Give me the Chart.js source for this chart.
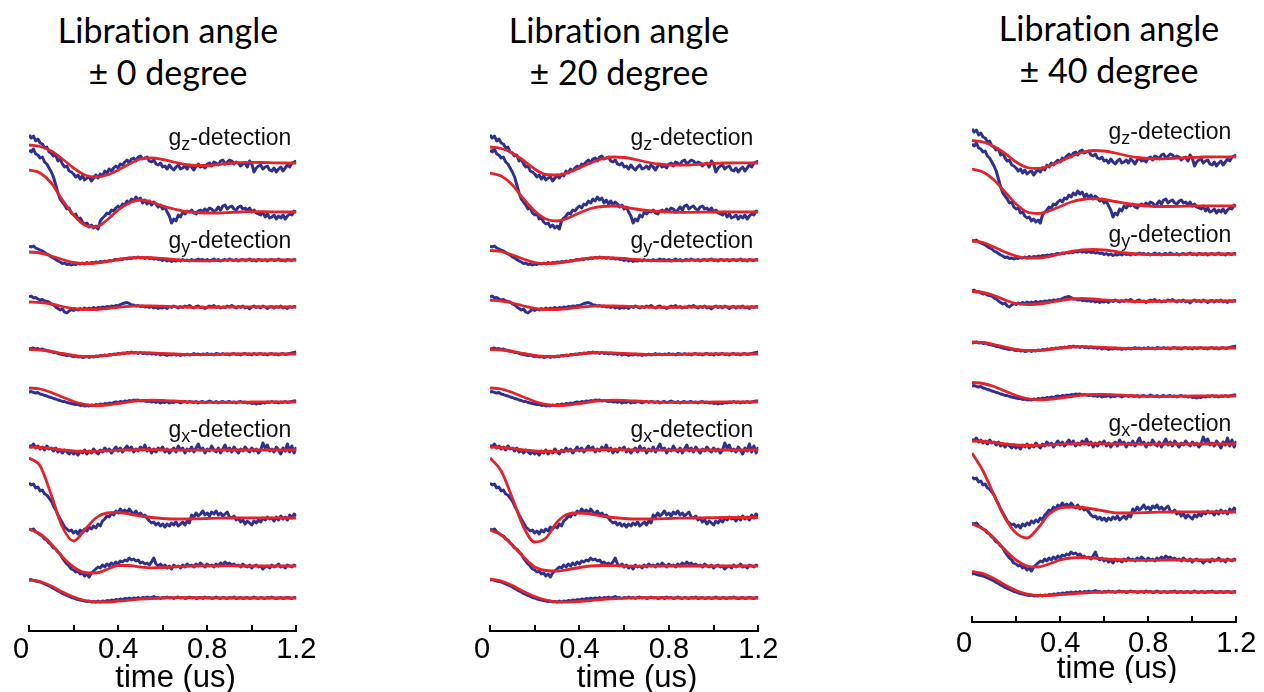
<!DOCTYPE html>
<html>
<head>
<meta charset="utf-8">
<title>Libration angle</title>
<script src="https://cdn.jsdelivr.net/npm/chart.js@4"></script>
<style>
  html, body { margin: 0; padding: 0; background: #fff; overflow: hidden; }
  body { width: 1264px; height: 692px; position: relative; }
  .titulo { position: absolute; width: 300px; text-align: center; font-family: Lato, "Open Sans", sans-serif; font-size: 34px; line-height: 42px; color: #000; font-variant-ligatures: none; }
  canvas { position: absolute; }
</style>
</head>
<body>
<div class="titulo" id="t0" style="left:18px; top:9px"></div>
<div class="titulo" id="t1" style="left:469px; top:9px"></div>
<div class="titulo" id="t2" style="left:959px; top:7px"></div>
<canvas id="c0" width="320" height="592" style="left:1px; top:100px"></canvas>
<canvas id="c1" width="321" height="592" style="left:462px; top:100px"></canvas>
<canvas id="c2" width="320" height="592" style="left:944px; top:91px"></canvas>
<script>
// Titulos de cada panel
var tituloLinea1 = 'Libration angle';
var angulos = ['± 0 degree', '± 20 degree', '± 40 degree'];
var tituloEje = 'time (us)';
var etiquetasTiempo = ['0', '', '0.4', '', '0.8', '', '1.2'];

// Etiquetas de deteccion: [g, subindice, resto] y nivel (en unidades del eje y)
var etiquetasDeteccion = [['g', 'z', '-detection'], ['g', 'y', '-detection'], ['g', 'x', '-detection']];
var nivelesEtiqueta = [486, 383, 194];

// Tiempos de las senales medidas (us)
var tiempos = [
  0, 0.01, 0.02, 0.03, 0.04, 0.05, 0.06, 0.07, 0.08, 0.09,
  0.1, 0.11, 0.12, 0.13, 0.14, 0.15, 0.16, 0.17, 0.18, 0.19,
  0.2, 0.21, 0.22, 0.23, 0.24, 0.25, 0.26, 0.27, 0.28, 0.29,
  0.3, 0.31, 0.32, 0.33, 0.34, 0.35, 0.36, 0.37, 0.38, 0.39,
  0.4, 0.41, 0.42, 0.43, 0.44, 0.45, 0.46, 0.47, 0.48, 0.49,
  0.5, 0.51, 0.52, 0.53, 0.54, 0.55, 0.56, 0.57, 0.58, 0.59,
  0.6, 0.61, 0.62, 0.63, 0.64, 0.65, 0.66, 0.67, 0.68, 0.69,
  0.7, 0.71, 0.72, 0.73, 0.74, 0.75, 0.76, 0.77, 0.78, 0.79,
  0.8, 0.81, 0.82, 0.83, 0.84, 0.85, 0.86, 0.87, 0.88, 0.89,
  0.9, 0.91, 0.92, 0.93, 0.94, 0.95, 0.96, 0.97, 0.98, 0.99,
  1, 1.01, 1.02, 1.03, 1.04, 1.05, 1.06, 1.07, 1.08, 1.09,
  1.1, 1.11, 1.12, 1.13, 1.14, 1.15, 1.16, 1.17, 1.18, 1.19,
  1.2
];
// Tiempos de las curvas de ajuste
var tiemposAjuste = [0, 0.05, 0.1, 0.15, 0.2, 0.25, 0.3, 0.35, 0.4, 0.45, 0.5, 0.55, 0.6,
  0.65, 0.7, 0.75, 0.8, 0.85, 0.9, 0.95, 1, 1.05, 1.1, 1.15, 1.2];

// Separacion vertical de cada traza
var desplazamientos = [468, 419, 371, 324, 277, 229, 181, 113, 65, 33];

// Senales medidas (azul), iguales en los tres paneles
var senal1 = [28, 25, 27, 22, 24, 20, 19, 15, 16, 11, 10, 7, 8, 2, 4, -1, -4, -3, -8, -9,
  -11, -14, -12, -16, -13, -17, -15, -14, -18, -15, -12, -15, -11, -13, -8, -10, -6, -8, -5, -3,
  -5, -1, -2, 1, 3, 0, 4, 5, 2, 6, 7, 4, 5, 6, 2, 1, 3, -1, -2, 0,
  -4, -3, -6, -2, -5, -7, -4, -2, -6, -5, -3, -6, -2, -4, -7, -3, -1, -4, -3, -5,
  -1, 0, -3, 1, 0, -2, 2, 3, -1, 1, 3, 2, -1, 1, 0, -3, -1, 0, -4, 2,
  -1, -9, -5, -3, -2, -6, -4, -3, -7, -8, -5, -9, -6, -4, -8, -5, -2, -4, 0, 1, 2];
var senal2 = [62, 60, 63, 58, 57, 54, 55, 50, 48, 44, 40, 35, 27, 19, 13, 10, 7, 3, 4, -1,
  -3, -2, -7, -6, -10, -12, -11, -15, -13, -16, -14, -17, -9, -6, -4, -1, -2, 2, 1, 4,
  6, 4, 8, 7, 11, 9, 13, 11, 15, 12, 14, 9, 12, 8, 11, 7, 10, 8, 5, 7,
  3, 5, 0, -4, -11, -7, -9, -3, -5, 0, -2, 1, 0, 2, -1, -2, 1, 2, 0, 3,
  1, 4, 3, 0, 2, 5, 2, 6, 7, 3, 5, 6, 3, 2, 5, 6, 3, 4, 1, 4,
  0, 2, -1, -2, -3, 0, -5, -2, -6, -5, -3, -7, -4, -6, -3, -7, -4, -2, -3, 1, 0];
var senal3 = [14, 13, 14, 12, 11, 10, 9, 7.5, 6, 5, 3, 2, 0.5, -1, -2, -3.5, -3, -4.5, -4, -5,
  -4, -4.5, -3.5, -4, -3, -4, -2.5, -3.5, -2.5, -3, -2, -2.5, -1.5, -2, -1, -1.5, -0.5, -1, 0, 0.5,
  0, 1, 0.5, 1.5, 1, 2, 1.5, 2.5, 2, 3, 2, 2.5, 1.5, 2.5, 1.5, 2, 1, 1.5, 0.5, 1,
  -0.5, 0.5, -1, 0, -1.5, -0.5, -1, 0, -1, 0.5, -0.5, 0, -1, 0.5, -0.5, 0, 1, 0, 0.5, -0.5,
  0.5, -1, 0, 1, -0.5, 0.5, -1, 0, 0.5, -0.5, 1, 0, -0.5, 0.5, -1, 0, 0.5, -0.5, 0, 1,
  -0.5, 0, -1, 0.5, 0, -0.5, 0.5, -1, 0, 0.5, -0.5, 0, 1, -0.5, 0, -1, 0.5, 0, -0.5, 0.5, 0];
var senal4 = [10, 11, 9, 9.5, 8, 7, 7.5, 6, 5.5, 5, 3, 2, 0, -1.5, -3, -2, -5, -6, -4, -2.5,
  -3.5, -2, -3, -1.5, -2.5, -1, -2, -1, -2, -0.5, -1.5, -0.5, -1, 0, -0.5, 0.5, 0, 1, 0.5, 1.5,
  1, 2.5, 3.5, 4, 4.5, 3.5, 2, 2, 1, 1.5, 0.5, 1, 0, 0.5, -0.5, 0.5, -1, 0, -1.5, -0.5,
  -1, 0, -1.5, 0.5, -0.5, 1, 0, -1, 0.5, -0.5, 1, 0, 1.5, 0, -1, 0.5, 1, -0.5, 0, -1.5,
  0, 1, 0, 1.5, -0.5, 0.5, -1, 0, -0.5, 1, 0, 1.5, 0, -1, 0.5, -0.5, 1, -1, 0, -2,
  0, 1, -0.5, 0.5, -1, 1, 0, -1.5, 0, 0.5, -1, 0.5, -0.5, 1, -1, 0, -1.5, 0.5, -0.5, 0.5, 0];
var senal5 = [5, 5.5, 6, 5, 5.5, 4.5, 5, 4, 3.5, 3, 2.5, 1.5, 1.5, 0.5, 0, -0.5, -1, -1.5, -1, -2,
  -2.5, -2, -3, -2.5, -3.5, -3, -2.5, -3.5, -2.5, -3, -2, -2.5, -1.5, -2, -1, -1.5, -0.5, -1, 0, -0.5,
  0.5, 0, 1, 0.5, 1.5, 1, 2, 1, 1.5, 0.5, 1.5, 0.5, 1, 0, 1, 0, 0.5, -0.5, 0.5, -1,
  0, -0.5, -1.5, -0.5, -1, 0, -1, -0.5, -1.5, -0.5, -1, 0, -1, -0.5, 0.5, -0.5, 0, -1, 0, -0.5,
  0.5, -0.5, 0, -1, 0.5, 0, -0.5, 0.5, -0.5, 0, -1, 0, 0.5, -0.5, 0, -1, 0, 0.5, -0.5, 0,
  -1, 0.5, -0.5, 0, 0.5, -0.5, 0, -1, 0, 0.5, -0.5, 0, -1, 0, 0.5, -0.5, 0, 0.5, 1, 1.5, 2];
var senal6 = [10, 10.5, 9.5, 9, 9.5, 8, 7.5, 6.5, 6, 5, 4.5, 3.5, 3, 2, 1.5, 0.5, 0.5, -0.5, -1, -1.5,
  -2, -2.5, -2.5, -3.5, -3, -4, -3.5, -4, -3, -3.5, -2.5, -3, -2, -2.5, -1.5, -2, -1, -1.5, -0.5, 0,
  -0.5, 0.5, 0, 1, 0.5, 1.5, 1, 2, 1.5, 2, 1, 1.5, 1, 0.5, 1, 0, 0.5, -0.5, 0.5, -1,
  0, -0.5, 0.5, -1, 0, -0.5, 0.5, 0, -1, 0, 0.5, -0.5, 0.5, 0, -0.5, 0.5, -1, 0, 0.5, -0.5,
  0, 1, 0, -0.5, 0.5, -1, 0, 0.5, -0.5, 0, 0.5, -0.5, 0, -1, 0, 0.5, -0.5, 0, -1, -0.5,
  -1.5, -1, -2, -1, -1.5, -0.5, -1, 0, -0.5, 0.5, -0.5, 0, -1, 0, -0.5, 0.5, -0.5, 0, 0.5, 1, 1];
var senal7 = [5, 3, 6, 2, 4, 1, 3, 0, 4, 1, 2, -1, 2, -2, 0, -3, 0, -2, -4, -1,
  -4, -2, -5, -1, -3, 0, -4, -1, -3, 1, -2, -4, 0, -2, 2, -1, 1, -3, 0, 3,
  -1, 2, -2, 1, 4, 0, 3, -2, 1, -1, 3, 0, 5, -1, 2, -3, 1, -2, 2, 0,
  3, -2, 1, -3, 0, 2, -2, 4, 0, 2, -3, 1, -1, 3, -2, 2, 6, 0, 2, -3,
  1, -1, 4, 0, -2, 2, -3, 1, 5, -1, 2, -2, 3, 0, -3, 1, -1, 3, 0, -2,
  2, -1, 1, -3, 0, 7, 2, 5, -1, 1, -2, 3, 0, -4, 2, -1, 6, -2, 4, -3, 3];
var senal8 = [35, 33, 34, 30, 31, 27, 28, 24, 23, 20, 17, 12, 8, 3, -1, -5, -9, -11, -13, -12,
  -15, -13, -16, -12, -14, -11, -13, -9, -11, -8, -10, -6, -8, -3, -1, 2, 1, 5, 3, 7,
  5, 9, 6, 8, 5, 9, 6, 4, 7, 3, 5, 2, 3, 0, -3, -5, -4, -7, -5, -8,
  -6, -9, -6, -8, -5, -7, -4, -8, -6, -4, -7, -3, -5, 3, 1, 5, 2, 4, 7, 3,
  5, 2, 6, 4, 7, 3, 5, 2, 4, 6, 1, 0, 2, -2, 0, -4, -2, -6, -3, -5,
  -7, -3, -5, -2, -4, 0, -2, 1, -1, 0, -3, 1, -2, 2, -1, 1, -2, 3, 0, 4, 2];
var senal9 = [37, 36, 37, 34, 33, 31, 30, 27, 26, 23, 21, 18, 17, 14, 12, 8, 5, 2, 0, -3,
  -4, -6, -5, -8, -7, -10, -8, -11, -7, -5, -3, -1, -2, 1, -1, 2, 0, 3, 1, 4,
  2, 5, 4, 6, 5, 8, 6, 7, 5, 6, 3, 4, 2, 3, 1, 4, 8, 2, 0, 2,
  -1, 1, -2, 0, -3, 1, -1, 0, -2, 1, -1, 2, 0, 1, -1, 2, 0, 3, 1, -1,
  2, 0, 1, -1, 2, 0, 3, 1, 4, 2, 3, 1, 2, 0, 1, -1, 2, 0, -1, 1,
  -2, 0, 1, -1, 0, -3, -1, 0, -2, 1, -1, 0, 2, -1, 0, -2, 1, 0, -1, 1, 0];
var senal10 = [18, 18.5, 17.5, 17, 16.5, 16, 15, 14, 13, 12, 11, 9.5, 8.5, 7, 6, 4.5, 3.5, 2.5, 1.5, 0.5,
  0, -1, -1.5, -2, -2.5, -3, -3.5, -3, -4, -3.5, -4, -3, -4, -3, -3.5, -2.5, -3, -2, -2.5, -1.5,
  -2, -1, -1.5, -0.5, -1, 0, -1, 0, -0.5, 0.5, -0.5, 0.5, 0, 1, 0, 0.5, 1.5, 0, 0.5, -0.5,
  0.5, 0, 1, 0, 0.5, -0.5, 0.5, 1, 0, 0.5, -0.5, 0, 1, 0, 0.5, -0.5, 0, 0.5, -0.5, 1,
  0, 0.5, -0.5, 0, 1, 0, -0.5, 0.5, 0, -0.5, 0.5, 0, 1, -0.5, 0, 0.5, -0.5, 0, 0.5, -0.5,
  0, 1, 0, -0.5, 0.5, 0, -0.5, 0.5, 0, 1, 0, -0.5, 0, 0.5, -0.5, 0, 0.5, 0, -0.5, 0.5, 0];

// Curvas de ajuste (rojo), panel de 0 grados
var ajuste0_1 = [18, 16.5, 12, 4, -5, -12, -14, -12, -7, -1, 4, 5, 3.5, 1, -1.5, -2.5, -2.5, -1.5, -0.5, 0.3, 0.6, 0.5, 0.2, 0, -0.1];
var ajuste0_2 = [42, 39, 29, 12, -3, -13, -15, -8, 2, 9, 12, 10, 6, 3, 0.5, -0.5, -1, -1, -0.5, 0, 0.3, 0.3, 0.2, 0, 0];
var ajuste0_3 = [8, 7, 4, 0.5, -2.5, -3.5, -3, -1.5, 0.5, 2, 2.5, 2.3, 1.5, 0.5, -0.3, -0.8, -0.8, -0.5, -0.2, 0, 0.2, 0.2, 0.1, 0, 0];
var ajuste0_4 = [5, 4.5, 3, 0.5, -1.5, -2.5, -2.5, -1.5, -0.3, 0.7, 1.2, 1.2, 0.8, 0.3, -0.2, -0.4, -0.4, -0.2, 0, 0.1, 0.1, 0.1, 0, 0, 0];
var ajuste0_5 = [4.5, 4, 2.5, 0.5, -1.5, -2.5, -2.3, -1.3, 0, 1, 1.3, 1.1, 0.6, 0, -0.4, -0.6, -0.5, -0.3, 0, 0.1, 0.1, 0.1, 0, 0, 0];
var ajuste0_6 = [14, 13, 9.5, 5, 0.5, -2.5, -3.5, -3, -1.5, 0.2, 1.3, 1.8, 1.6, 1, 0.4, -0.1, -0.4, -0.4, -0.3, -0.1, 0, 0.1, 0.1, 0, 0];
var ajuste0_7 = [3, 2.5, 1.5, 0, -1, -1.5, -1.3, -0.8, -0.2, 0.2, 0.4, 0.4, 0.2, 0, -0.1, -0.2, -0.1, 0, 0, 0, 0, 0, 0, 0, 0];
var ajuste0_8 = [60, 52, 23, -9, -23, -12, 0, 5, 5.5, 4, 2, 0.5, -0.5, -1, -1, -0.8, -0.5, -0.2, 0, 0.1, 0.2, 0.2, 0.1, 0, 0];
var ajuste0_9 = [37, 32, 22, 9, -1, -6.5, -7, -3.5, 0.5, 0.5, -1, -1.8, -1.5, -0.8, -0.3, 0, 0.2, 0.2, 0.1, 0, 0, 0, 0, 0, 0];
var ajuste0_10 = [18, 16.5, 12, 6, 1, -2.5, -4, -4, -3.2, -2.2, -1.2, -0.5, 0, 0.3, 0.3, 0.3, 0.2, 0.1, 0, 0, 0, 0, 0, 0, 0];

// Panel de 20 grados
var ajuste20_1 = [16, 14.5, 10, 2.5, -6, -11.5, -12, -9.5, -5, 0, 4, 6, 5.5, 3.5, 1, -1, -2, -2.2, -1.8, -1, -0.4, 0, 0.2, 0.1, 0];
var ajuste20_2 = [39, 36, 27, 13, 1, -7, -9, -6, -1, 3.5, 5.5, 6, 5, 3, 1.5, 0.5, 0, -0.3, -0.3, -0.2, 0, 0.1, 0.1, 0, 0];
var ajuste20_3 = [9.5, 8.5, 5, 1, -2.5, -3.5, -3, -1.5, 0.5, 2, 2.5, 2.2, 1.5, 0.5, -0.3, -0.8, -0.8, -0.5, -0.2, 0, 0.2, 0.2, 0.1, 0, 0];
var ajuste20_4 = [7, 6, 4, 1, -1.5, -2.5, -2.5, -1.5, -0.3, 0.7, 1.2, 1.2, 0.8, 0.3, -0.2, -0.4, -0.4, -0.2, 0, 0.1, 0.1, 0.1, 0, 0, 0];
var ajuste20_8 = [60, 47, 20, -9, -24, -20, -4, 4, 5, 4, 2, 0.5, -0.5, -1, -1, -0.8, -0.5, -0.2, 0, 0.2, 0.4, 0.5, 0.5, 0.5, 0.5];
var ajuste20_9 = [36, 31, 21, 9, -1, -4.5, -5, -3.5, -1.5, 0, 0.5, 0.3, 0, -0.2, -0.2, -0.1, 0, 0, 0, 0, 0, 0, 0, 0, 0];
var ajuste20_10 = [19, 17, 12.5, 6.5, 1.5, -2, -4, -4.2, -3.5, -2.5, -1.5, -0.8, -0.2, 0.2, 0.3, 0.3, 0.2, 0.1, 0, 0, 0, 0, 0, 0, 0];

// Panel de 40 grados
var ajuste40_1 = [16.5, 15, 10.5, 3.5, -5, -10.5, -11.5, -9, -4.5, 0.5, 4.5, 6.5, 6, 4, 1.5, -0.5, -1.5, -1.8, -1.5, -1, -0.5, 0, 0.2, 0.2, 0];
var ajuste40_2 = [37, 34, 26, 14, 2, -6, -7.5, -5, -0.5, 4, 6.5, 7.3, 6.5, 4.5, 2.5, 1, 0, -0.5, -0.5, -0.3, 0, 0.2, 0.2, 0.1, 0];
var ajuste40_3 = [13, 11.5, 7, 2, -2, -4, -4, -2.5, 0, 2.5, 4, 4.5, 4, 2.5, 1, 0, -0.5, -0.6, -0.5, -0.3, 0, 0, 0, 0, 0];
var ajuste40_4 = [9.5, 8.5, 5.5, 1, -2.5, -3.5, -3, -1.5, 0.5, 2, 2.5, 2, 1.2, 0.4, -0.2, -0.5, -0.5, -0.3, 0, 0.1, 0.1, 0, 0, 0, 0];
var ajuste40_5 = [6, 5.5, 3.5, 1, -1.5, -2.5, -2.5, -1.5, 0, 1, 1.3, 1.1, 0.6, 0, -0.4, -0.6, -0.5, -0.3, 0, 0.1, 0.1, 0.1, 0, 0, 0];
var ajuste40_6 = [13.5, 12.5, 9.5, 5, 0.5, -2.5, -3.8, -3.3, -2, -0.5, 0.8, 1.5, 1.6, 1.2, 0.6, 0, -0.4, -0.5, -0.4, -0.2, 0, 0.1, 0.1, 0, 0];
var ajuste40_8 = [59, 41, 17, -6, -21, -26, -16, -2, 4, 5, 4.5, 3, 1, -0.8, -1, -0.8, -0.5, -0.2, 0, 0.1, 0.2, 0.2, 0.1, 0, 0];
var ajuste40_9 = [36, 31, 22, 10, 0, -6, -7, -4, 0, 2, 2.5, 2, 1.2, 0.5, 0, -0.3, -0.3, -0.2, 0, 0, 0, 0, 0, 0, 0];
var ajuste40_10 = [20.5, 18.5, 13.5, 7, 1.5, -2, -3.5, -3.5, -2.7, -1.8, -1, -0.4, 0, 0.2, 0.3, 0.3, 0.2, 0.1, 0, 0, 0, 0, 0, 0, 0];

var senales = [senal1, senal2, senal3, senal4, senal5, senal6, senal7, senal8, senal9, senal10];
var ajustes = [
  [ajuste0_1, ajuste0_2, ajuste0_3, ajuste0_4, ajuste0_5, ajuste0_6, ajuste0_7, ajuste0_8, ajuste0_9, ajuste0_10],
  [ajuste20_1, ajuste20_2, ajuste20_3, ajuste20_4, ajuste0_5, ajuste0_6, ajuste0_7, ajuste20_8, ajuste20_9, ajuste20_10],
  [ajuste40_1, ajuste40_2, ajuste40_3, ajuste40_4, ajuste40_5, ajuste40_6, ajuste0_7, ajuste40_8, ajuste40_9, ajuste40_10]
];

// Ajustes de cada lienzo (el tercero queda un poco mas arriba)
var paneles = [
  { id: 'c0', yMin: 0, padTicks: 4.5, padTitulo: 6.3 },
  { id: 'c1', yMin: 0, padTicks: 4.5, padTitulo: 6.3 },
  { id: 'c2', yMin: 3, padTicks: 7.5, padTitulo: 0.3 }
];

var fuente = '"Liberation Sans", Arial, Helvetica, sans-serif';
var colorAjuste = '#e3242b';
var colorSenal = '#2e3192';

// Rayitas del eje hacia adentro y etiquetas g_z / g_y / g_x
var marcas = {
  id: 'marcas',
  afterDraw: function (chart) {
    var ctx = chart.ctx, ejeX = chart.scales.x, ejeY = chart.scales.y;
    ctx.save();
    ctx.strokeStyle = '#000';
    ctx.lineWidth = 2;
    ejeX.ticks.forEach(function (t) {
      var px = Math.round(ejeX.getPixelForValue(t.value));
      ctx.beginPath();
      ctx.moveTo(px, ejeX.top);
      ctx.lineTo(px, ejeX.top - 6);
      ctx.stroke();
    });

    var derecha = ejeX.getPixelForValue(1.2) - 5;
    ctx.fillStyle = '#111';
    ctx.textAlign = 'left';
    ctx.textBaseline = 'alphabetic';
    for (var i = 0; i < etiquetasDeteccion.length; i++) {
      var e = etiquetasDeteccion[i];
      var y = ejeY.getPixelForValue(nivelesEtiqueta[i]);
      ctx.font = '23px ' + fuente;
      var anchoResto = ctx.measureText(e[2]).width;
      var anchoG = ctx.measureText(e[0]).width;
      ctx.font = '18px ' + fuente;
      var anchoSub = ctx.measureText(e[1]).width;
      var x0 = derecha - anchoResto - anchoSub - anchoG;
      ctx.font = '23px ' + fuente;
      ctx.fillText(e[0], x0, y);
      ctx.fillText(e[2], derecha - anchoResto, y);
      ctx.font = '18px ' + fuente;
      ctx.fillText(e[1], x0 + anchoG, y + 5);
    }
    ctx.restore();
  }
};

function crearPanel(n) {
  var p = paneles[n];
  document.getElementById('t' + n).innerHTML = tituloLinea1 + '<br>' + angulos[n];

  var conjuntos = [];
  // primero los ajustes en rojo, encima las senales en azul
  for (var i = 0; i < senales.length; i++) {
    var ajuste = ajustes[n][i];
    conjuntos.push({
      data: tiemposAjuste.map(function (t, j) { return { x: t, y: ajuste[j] + desplazamientos[i] }; }),
      borderColor: colorAjuste,
      borderWidth: 2.8,
      pointRadius: 0,
      cubicInterpolationMode: 'monotone',
      fill: false
    });
  }
  for (var k = 0; k < senales.length; k++) {
    var senal = senales[k];
    conjuntos.push({
      data: tiempos.map(function (t, j) { return { x: t, y: senal[j] + desplazamientos[k] }; }),
      borderColor: colorSenal,
      borderWidth: 3,
      borderJoinStyle: 'round',
      pointRadius: 0,
      tension: 0,
      fill: false
    });
  }

  var configuracion = {
    type: 'line',
    data: { datasets: conjuntos },
    options: {
      responsive: false,
      animation: false,
      events: [],
      layout: { padding: { top: 10, left: 28, right: 24, bottom: 0 } },
      plugins: { legend: { display: false }, tooltip: { enabled: false } },
      scales: {
        x: {
          type: 'linear',
          min: 0,
          max: 1.2,
          grid: { display: false, drawTicks: false },
          border: { display: true, color: '#000', width: 2 },
          ticks: {
            stepSize: 0.2,
            autoSkip: false,
            maxRotation: 0,
            padding: p.padTicks,
            color: '#000',
            font: { family: fuente, size: 29, lineHeight: 1 },
            callback: function (valor, indice) {
              var texto = etiquetasTiempo[indice];
              // el cero va corrido a la izquierda
              return indice === 0 ? texto + '  ' : texto;
            }
          },
          title: {
            display: true,
            text: '   ' + tituloEje,
            color: '#000',
            font: { family: fuente, size: 31, lineHeight: 0.2 },
            padding: { top: p.padTitulo, bottom: 10.5 }
          }
        },
        y: { type: 'linear', display: false, min: p.yMin, max: p.yMin + 521 }
      }
    },
    plugins: [marcas]
  };

  var contexto = document.getElementById(p.id).getContext('2d');
  new Chart(contexto, configuracion);
}

for (var n = 0; n < paneles.length; n++) {
  crearPanel(n);
}
</script>
</body>
</html>
